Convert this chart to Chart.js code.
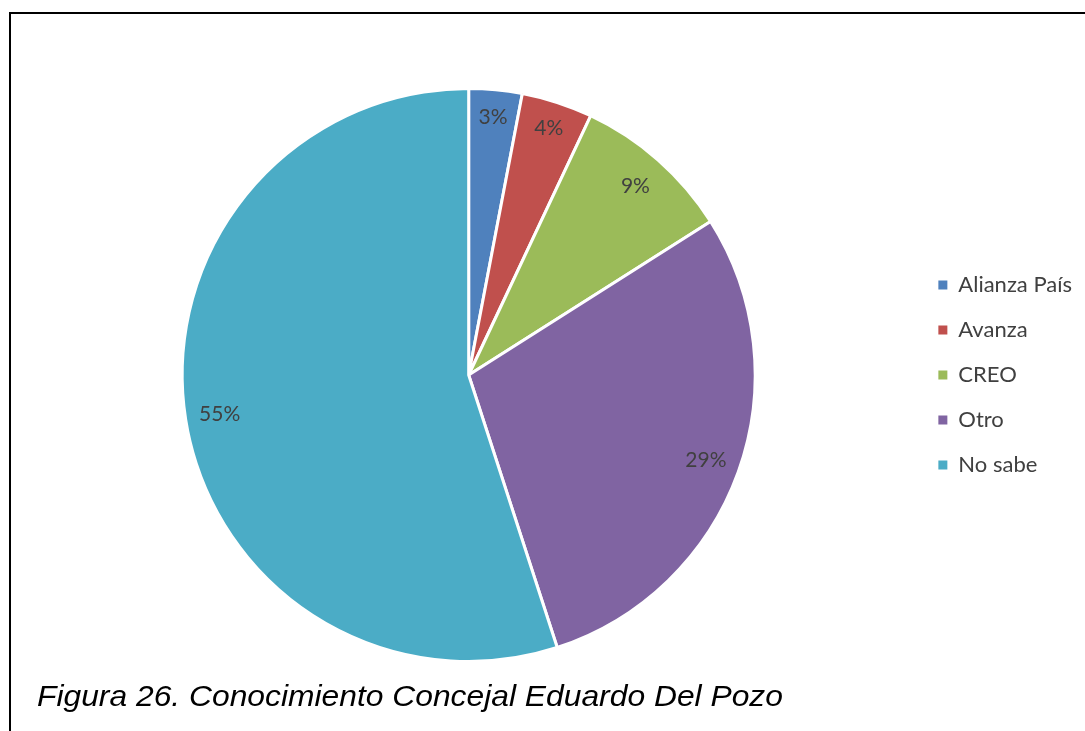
<!DOCTYPE html>
<html>
<head>
<meta charset="utf-8">
<script src="https://cdn.jsdelivr.net/npm/chart.js@4/dist/chart.umd.min.js"></script>
<style>
  html, body { margin: 0; padding: 0; background: #fff; }
  #wrap { position: relative; width: 1085px; height: 731px; overflow: hidden; }
  #frame {
    position: absolute; left: 9px; top: 12px; width: 1200px; height: 800px;
    border-top: 2px solid #000; border-left: 2px solid #000;
  }
  #chart { position: absolute; left: 0; top: 0; }
  #caption {
    position: absolute; left: 37px; top: 679px;
    font-family: "Liberation Sans", Arial, sans-serif; font-style: italic;
    font-size: 30px; color: #000; white-space: nowrap;
    transform: scaleX(1.06); transform-origin: left top;
  }
</style>
</head>
<body>
<div id="wrap">
  <div id="frame"></div>
  <canvas id="chart" width="1085" height="731"></canvas>
  <div id="caption">Figura 26. Conocimiento Concejal Eduardo Del Pozo</div>
</div>
<script>
// Survey answers and their share in percent
const parties = ["Alianza País", "Avanza", "CREO", "Otro", "No sabe"];
const shares = [3, 4, 9, 29, 55];
const sliceColours = ["#4F81BD", "#C0504D", "#9BBB59", "#8064A2", "#4BACC6"];

const ctx = document.getElementById("chart");

// Percent labels placed near the outer edge of each slice
const sliceLabels = {
  id: "sliceLabels",
  afterDatasetsDraw(chart) {
    const c = chart.ctx;
    const meta = chart.getDatasetMeta(0);
    c.save();
    c.font = "21px Lato, 'Open Sans', sans-serif";
    c.fillStyle = "#404040";
    c.textAlign = "center";
    c.textBaseline = "middle";
    meta.data.forEach((arc, i) => {
      const { x, y, startAngle, endAngle, outerRadius } = arc.getProps(
        ["x", "y", "startAngle", "endAngle", "outerRadius"], true
      );
      const mid = (startAngle + endAngle) / 2;
      // narrow slices get their label pushed a bit further out
      const r = outerRadius * (shares[i] < 5 ? 0.905 : 0.88);
      c.fillText(shares[i] + "%", x + Math.cos(mid) * r, y + Math.sin(mid) * r);
    });
    c.restore();
  },
};

new Chart(ctx, {
  type: "pie",
  data: {
    labels: parties,
    datasets: [
      {
        data: shares,
        backgroundColor: sliceColours,
        borderColor: "#ffffff",
        borderWidth: 3,
      },
    ],
  },
  options: {
    responsive: false,
    animation: false,
    layout: {
      padding: { top: 87, bottom: 68, left: 22, right: 3 },
    },
    plugins: {
      tooltip: { enabled: false },
      legend: {
        position: "right",
        labels: {
          boxWidth: 9,
          boxHeight: 9,
          padding: 23,
          color: "#404040",
          font: { family: "Lato, 'Open Sans', sans-serif", size: 22 },
          // solid legend squares, without the white slice border
          generateLabels(chart) {
            return Chart.overrides.pie.plugins.legend.labels
              .generateLabels(chart)
              .map((item) => ({ ...item, lineWidth: 0 }));
          },
        },
      },
    },
  },
  plugins: [sliceLabels],
});
</script>
</body>
</html>
